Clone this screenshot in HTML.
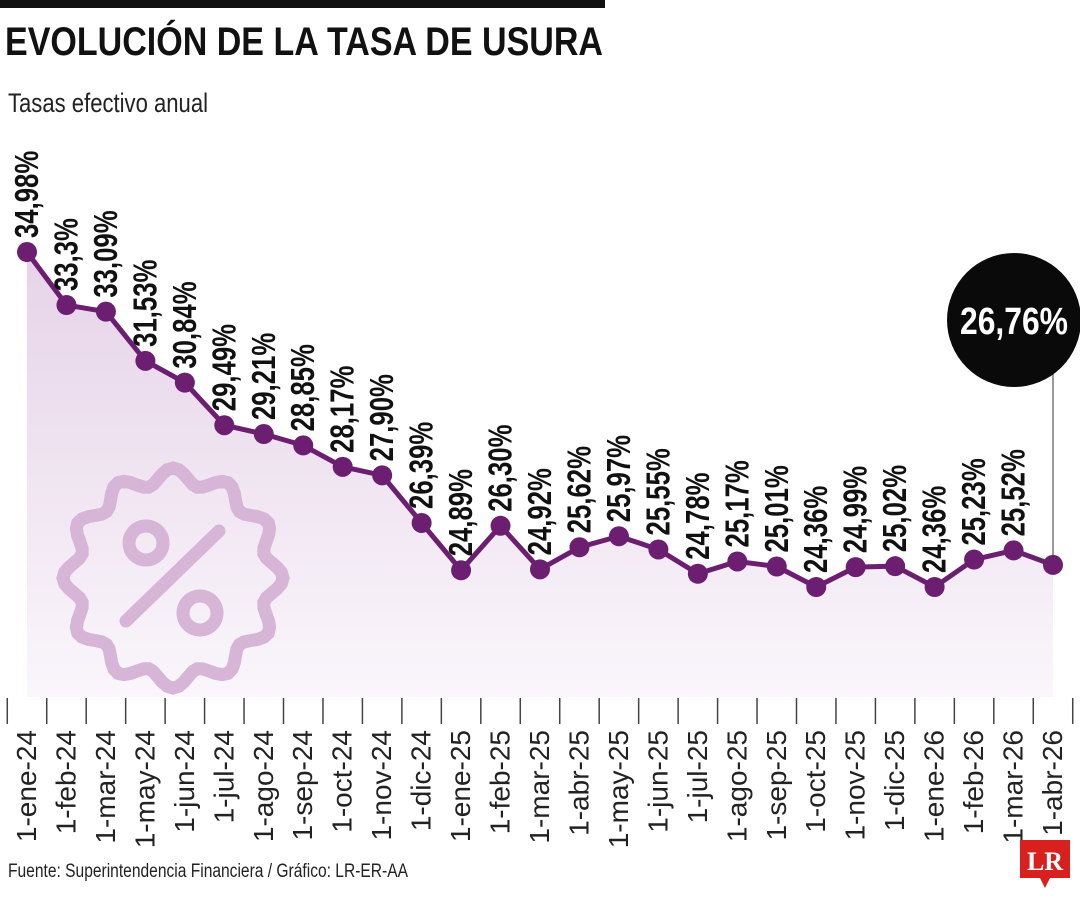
<!DOCTYPE html>
<html><head><meta charset="utf-8"><style>
body{margin:0;background:#fff;}
svg{display:block;font-family:"Liberation Sans",sans-serif;}
</style></head><body>
<svg id="chart" width="1080" height="900" viewBox="0 0 1080 900" xmlns="http://www.w3.org/2000/svg">
<defs>
<linearGradient id="areaGrad" x1="0" y1="0" x2="0" y2="1">
<stop offset="0" stop-color="#e6d3e8"/>
<stop offset="1" stop-color="#faf6fb"/>
</linearGradient>
</defs>
<rect x="0" y="0" width="605" height="8" fill="#111"/>
<text x="5" y="55" font-size="40" font-weight="bold" fill="#111" textLength="598" lengthAdjust="spacingAndGlyphs">EVOLUCIÓN DE LA TASA DE USURA</text>
<text x="8" y="112" font-size="27" fill="#222" textLength="200" lengthAdjust="spacingAndGlyphs">Tasas efectivo anual</text>
<g id="plot"></g>
<text x="8" y="877" font-size="19" fill="#222" textLength="400" lengthAdjust="spacingAndGlyphs">Fuente: Superintendencia Financiera / Gráfico: LR-ER-AA</text>
<g>
<path d="M1020 840 H1070 V878 H1050 L1045 888 L1040 878 H1020 Z" fill="#d8201e"/>
<text x="1045" y="870" font-size="26" font-weight="bold" fill="#fff" text-anchor="middle" font-family="Liberation Serif,serif">LR</text>
</g>
</svg>
<script>
const categories = ["1-ene-24","1-feb-24","1-mar-24","1-may-24","1-jun-24","1-jul-24","1-ago-24","1-sep-24","1-oct-24","1-nov-24","1-dic-24","1-ene-25","1-feb-25","1-mar-25","1-abr-25","1-may-25","1-jun-25","1-jul-25","1-ago-25","1-sep-25","1-oct-25","1-nov-25","1-dic-25","1-ene-26","1-feb-26","1-mar-26","1-abr-26"];
const values = [34.98,33.3,33.09,31.53,30.84,29.49,29.21,28.85,28.17,27.90,26.39,24.89,26.30,24.92,25.62,25.97,25.55,24.78,25.17,25.01,24.36,24.99,25.02,24.36,25.23,25.52,25.06];
const valueLabels = ["34,98%","33,3%","33,09%","31,53%","30,84%","29,49%","29,21%","28,85%","28,17%","27,90%","26,39%","24,89%","26,30%","24,92%","25,62%","25,97%","25,55%","24,78%","25,17%","25,01%","24,36%","24,99%","25,02%","24,36%","25,23%","25,52%",""];
const highlightLabel = "26,76%";

const NS="http://www.w3.org/2000/svg";
const plot=document.getElementById('plot');
const x0=27, dx=(1053-27)/(categories.length-1);
function xScale(i){return x0+i*dx;}
function yScale(v){return 587-(v-24.36)*31.54;}
const baseY=697;
function mk(tag,attrs,parent){const e=document.createElementNS(NS,tag);for(const k in attrs)e.setAttribute(k,attrs[k]);(parent||plot).appendChild(e);return e;}

let d='M'+xScale(0)+' '+baseY;
values.forEach((v,i)=>{d+=' L'+xScale(i)+' '+yScale(v);});
d+=' L'+xScale(values.length-1)+' '+baseY+' Z';
const area=mk('path',{d:d,fill:'url(#areaGrad)'});



const badge=mk('g',{fill:'none',stroke:'#d6b5d6','stroke-width':13,'stroke-linecap':'round'});


let bd='';
for(let k=0;k<=360;k+=3){const a=(k-90)*Math.PI/180;const r=102+8*Math.cos(12*k*Math.PI/180);const px=173+r*Math.cos(a),py=578+r*Math.sin(a);bd+=(k?'L':'M')+px.toFixed(1)+' '+py.toFixed(1);}
mk('path',{d:bd+'Z'},badge);
mk('circle',{cx:146,cy:543,r:17},badge);
mk('circle',{cx:200,cy:613,r:17},badge);
mk('line',{x1:126,y1:621,x2:219,y2:531},badge);

const cl=mk('line',{x1:xScale(values.length-1),y1:365,x2:xScale(values.length-1),y2:yScale(values[values.length-1]),stroke:'#333','stroke-width':1});



let ld='';
values.forEach((v,i)=>{ld+=(i?' L':'M')+xScale(i)+' '+yScale(v);});
const line=mk('path',{d:ld,fill:'none',stroke:'#6c1f70','stroke-width':5,'stroke-linejoin':'round'});



values.forEach((v,i)=>{
  const c=mk('circle',{cx:xScale(i),cy:yScale(v),r:10,fill:'#6c1f70'});
  
  
  if(valueLabels[i]){
    const t=mk('text',{transform:'translate('+(xScale(i)+11)+','+(yScale(v)-14)+') rotate(-90) scale(0.78,1)','font-size':33,'font-weight':'bold',fill:'#111'});
    t.textContent=valueLabels[i];
    
    
  }
});

for(let i=0;i<=categories.length;i++){
  const tx=xScale(i)-dx/2;
  const tk=mk('line',{x1:tx,y1:698,x2:tx,y2:724,stroke:'#444','stroke-width':1.5});
  
  
}
categories.forEach((c,i)=>{
  const t=mk('text',{transform:'translate('+(xScale(i)+9)+',730) rotate(-90) scale(1.0,1)','font-size':28,fill:'#222','text-anchor':'end'});
  t.textContent=c;
  
  
});

const hb=mk('circle',{cx:1014,cy:320,r:67,fill:'#0a0a0a'});


const ht=mk('text',{x:1014,y:334,'font-size':38,'font-weight':'bold',fill:'#fff','text-anchor':'middle',textLength:108,lengthAdjust:'spacingAndGlyphs'});
ht.textContent=highlightLabel;


</script>
</body></html>
